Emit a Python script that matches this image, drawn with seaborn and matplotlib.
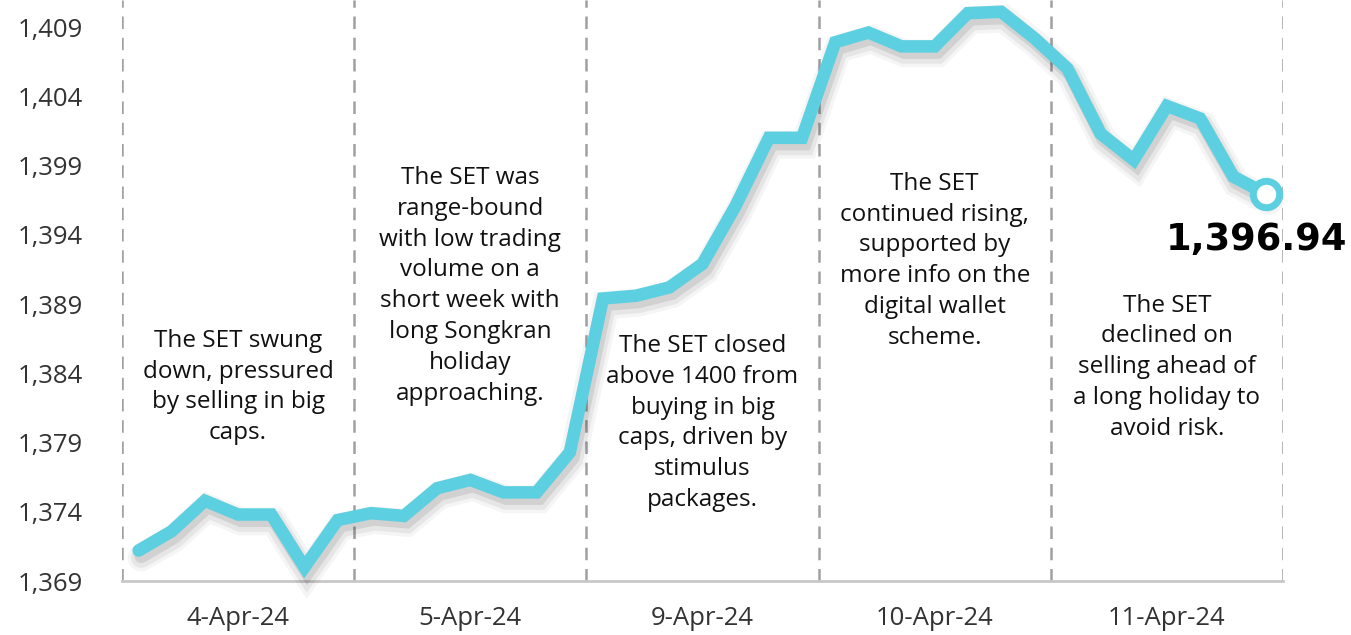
import numpy as np
import pandas as pd
import matplotlib
matplotlib.use("Agg")
import matplotlib.pyplot as plt
import matplotlib.patheffects as pe
import seaborn as sns

# Datos: SET index, 7 lecturas por sesión
dias = ["4-Apr-24", "5-Apr-24", "9-Apr-24", "10-Apr-24", "11-Apr-24"]
puntos_por_dia = 7
set_index = [
    1371.2, 1372.6, 1374.8, 1373.8, 1373.8, 1370.0, 1373.4,
    1373.9, 1373.7, 1375.7, 1376.3, 1375.4, 1375.4, 1378.3,
    1389.4, 1389.6, 1390.2, 1391.9, 1396.1, 1401.0, 1401.0,
    1407.9, 1408.6, 1407.6, 1407.6, 1410.0, 1410.1, 1408.2,
    1406.0, 1401.3, 1399.4, 1403.3, 1402.4, 1398.2, 1396.94,
]
ultimo_label = "1,396.94"
y_ticks = [1369, 1374, 1379, 1384, 1389, 1394, 1399, 1404, 1409]
notas = [
    "The SET swung\ndown, pressured\nby selling in big\ncaps.",
    "The SET was\nrange-bound\nwith low trading\nvolume on a\nshort week with\nlong Songkran\nholiday\napproaching.",
    "The SET closed\nabove 1400 from\nbuying in big\ncaps, driven by\nstimulus\npackages.",
    "The SET\ncontinued rising,\nsupported by\nmore info on the\ndigital wallet\nscheme.",
    "The SET\ndeclined on\nselling ahead of\na long holiday to\navoid risk.",
]
nota_y = [0.334, 0.508, 0.272, 0.551, 0.368]  # fracción del eje

df = pd.DataFrame({"idx": np.arange(len(set_index)), "SET": set_index})

sns.set_style("white")
plt.rcParams["font.family"] = ["Open Sans", "DejaVu Sans"]

fig = plt.figure(figsize=(13.51, 6.35), dpi=100)
ax = fig.add_axes([0.0903, 0.085, 0.8594, 0.915])

color_linea = "#5ccfe0"
sombra = [
    pe.SimpleLineShadow(offset=(2, -5), shadow_color="black", alpha=0.04, linewidth=20),
    pe.SimpleLineShadow(offset=(2, -5), shadow_color="black", alpha=0.06, linewidth=15),
    pe.SimpleLineShadow(offset=(2, -4), shadow_color="black", alpha=0.09, linewidth=10),
    pe.Normal(),
]
sns.lineplot(data=df, x="idx", y="SET", ax=ax, color=color_linea, linewidth=9,
             solid_joinstyle="miter", solid_capstyle="round", path_effects=sombra,
             clip_on=False, zorder=3)

# último punto
ax.plot(df["idx"].iloc[-1], df["SET"].iloc[-1], "o", ms=19, mfc="white",
        mec=color_linea, mew=5, zorder=5, clip_on=False)
ax.annotate(ultimo_label, (df["idx"].iloc[-1], df["SET"].iloc[-1]),
            xytext=(-7, -33), textcoords="offset points", ha="center", va="center",
            fontsize=26.5, fontweight="bold", family="DejaVu Sans", color="black", zorder=6)

# separadores de días
n = len(dias)
for k in range(n + 1):
    ax.axvline(k * puntos_por_dia - 0.5, color="#a0a0a0", linestyle=(0, (5, 3.5)),
               linewidth=1.8, zorder=1)

# notas
for k, (txt, yy) in enumerate(zip(notas, nota_y)):
    xc = k * puntos_por_dia + (puntos_por_dia - 1) / 2
    ax.text(xc, yy, txt, transform=ax.get_xaxis_transform(), ha="center", va="center",
            fontsize=17.5, color="#111111", linespacing=1.38)

ax.set_xlim(-0.5, n * puntos_por_dia - 0.5)
ax.set_ylim(1369, 1410.95)
ax.set_xticks([k * puntos_por_dia + (puntos_por_dia - 1) / 2 for k in range(n)])
ax.set_xticklabels(dias)
ax.set_yticks(y_ticks)
ax.set_yticklabels([f"{v:,}" for v in y_ticks])
ax.tick_params(axis="x", length=0, pad=18, labelsize=18.5, labelcolor="#333333")
ax.tick_params(axis="y", length=0, pad=28, labelsize=18.5, labelcolor="#333333")
ax.set_xlabel("")
ax.set_ylabel("")

for s in ["top", "right", "left"]:
    ax.spines[s].set_visible(False)
ax.spines["bottom"].set_color("#c8c8c8")
ax.spines["bottom"].set_linewidth(2)

fig.savefig("out.png", dpi=100)
